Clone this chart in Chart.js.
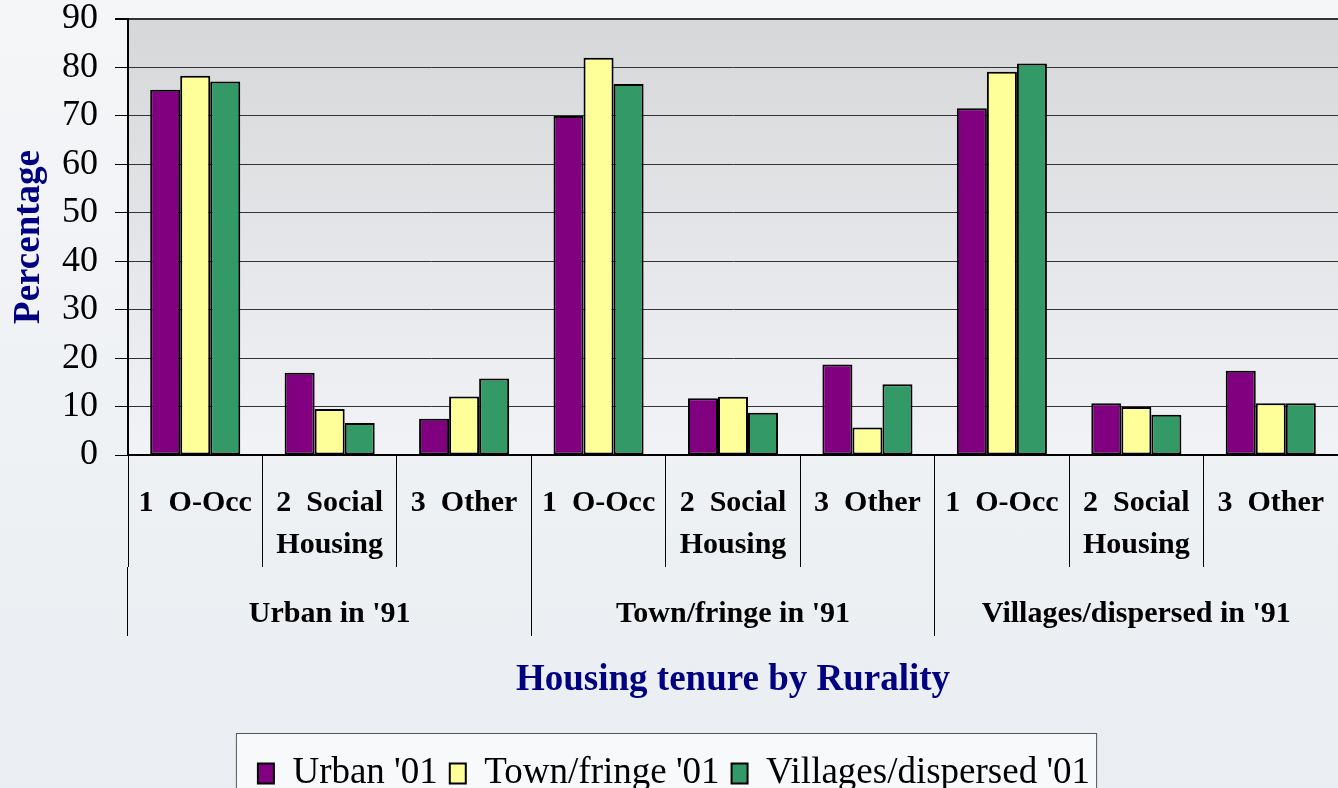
<!DOCTYPE html>
<html>
<head>
<meta charset="utf-8">
<script src="https://cdn.jsdelivr.net/npm/chart.js@4.4.0/dist/chart.umd.min.js"></script>
<style>
html, body { margin: 0; padding: 0; }
body { width: 1338px; height: 788px; overflow: hidden; background: linear-gradient(#f4f6f8, #eaedf1); }
</style>
</head>
<body>
<canvas id="chart" width="1338" height="788"></canvas>
<script>
// data
var tenureLabels = [
    ['1  O-Occ'], ['2  Social', 'Housing'], ['3  Other'],
    ['1  O-Occ'], ['2  Social', 'Housing'], ['3  Other'],
    ['1  O-Occ'], ['2  Social', 'Housing'], ['3  Other']
];
var ruralityGroups = ["Urban in '91", "Town/fringe in '91", "Villages/dispersed in '91"];
var seriesNames = ["Urban '01", "Town/fringe '01", "Villages/dispersed '01"];
var urban01 = [75.4, 17.0, 7.5, 70.0, 11.7, 18.7, 71.6, 10.7, 17.4];
var town01 = [78.3, 9.5, 12.1, 82.0, 12.0, 5.7, 79.1, 9.9, 10.7];
var villages01 = [77.1, 6.6, 15.8, 76.6, 8.7, 14.6, 80.8, 8.3, 10.7];
var yMin = 0, yMax = 90, yStep = 10;

var serif = "'Times New Roman', 'Liberation Serif', serif";

var plotBackground = {
    id: 'plotBackground',
    beforeDraw: function(chart) {
        var ctx = chart.ctx, a = chart.chartArea;
        ctx.save();
        var g = ctx.createLinearGradient(0, a.top, 0, a.bottom);
        g.addColorStop(0, '#d6d7d9');
        g.addColorStop(1, '#f1f3f6');
        ctx.fillStyle = g;
        ctx.fillRect(a.left, a.top, a.right - a.left, a.bottom - a.top);

        // frame round the legend
        var boxes = chart.legend.legendHitBoxes;
        if (boxes && boxes.length) {
            var first = boxes[0], last = boxes[boxes.length - 1];
            var x0 = first.left - 22, x1 = last.left + last.width + 6;
            var y0 = first.top - 22;
            ctx.fillStyle = '#f8f9fb';
            ctx.fillRect(x0, y0, x1 - x0, chart.height - y0 + 10);
            ctx.strokeStyle = '#555';
            ctx.lineWidth = 1;
            ctx.strokeRect(x0 + 0.5, y0 + 0.5, x1 - x0, chart.height - y0 + 10);
        }
        ctx.restore();
    }
};

var ctx = document.getElementById('chart').getContext('2d');

function makeSet(name, values, colour) {
    return {
        label: name,
        data: values,
        backgroundColor: colour,
        borderColor: '#000',
        borderWidth: 2,
        borderSkipped: false,
        categoryPercentage: 0.67,
        barPercentage: 1.0
    };
}

var myChart = new Chart(ctx, {
    type: 'bar',
    data: {
        labels: tenureLabels,
        datasets: [
            makeSet(seriesNames[0], urban01, '#800080'),
            makeSet(seriesNames[1], town01, '#ffff99'),
            makeSet(seriesNames[2], villages01, '#339966')
        ]
    },
    plugins: [plotBackground],
    options: {
        responsive: false,
        animation: false,
        layout: { padding: { left: 0, right: -10, top: 0, bottom: -14 } },
        plugins: {
            tooltip: { enabled: false },
            legend: {
                position: 'bottom',
                labels: {
                    color: '#000',
                    font: { family: serif, size: 37 },
                    boxWidth: 16,
                    boxHeight: 20,
                    padding: 12
                }
            }
        },
        scales: {
            x: {
                position: 'bottom',
                weight: 1,
                offset: true,
                grid: {
                    offset: true,
                    drawOnChartArea: false,
                    color: '#000',
                    lineWidth: 1,
                    tickLength: 112
                },
                border: { display: true, color: '#000', width: 2 },
                ticks: {
                    color: '#000',
                    maxRotation: 0,
                    autoSkip: false,
                    padding: -85,
                    font: { family: serif, size: 30, weight: 'bold', lineHeight: 1.4 }
                },
                afterFit: function(scale) { scale.height = 112; }
            },
            x2: {
                type: 'category',
                position: 'bottom',
                weight: 2,
                labels: ruralityGroups,
                offset: true,
                grid: {
                    offset: true,
                    drawOnChartArea: false,
                    color: '#000',
                    lineWidth: 1,
                    tickLength: 69
                },
                border: { display: false },
                ticks: {
                    color: '#000',
                    maxRotation: 0,
                    autoSkip: false,
                    padding: -40,
                    font: { family: serif, size: 30, weight: 'bold', lineHeight: 1.2 }
                },
                title: {
                    display: true,
                    text: 'Housing tenure by Rurality',
                    color: '#000080',
                    font: { family: serif, size: 37, weight: 'bold', lineHeight: 1.2 },
                    padding: { top: 0, bottom: 40 }
                },
                afterFit: function(scale) { scale.height = 176; }
            },
            y: {
                min: yMin,
                max: yMax,
                grid: {
                    color: '#333',
                    tickColor: '#000',
                    lineWidth: function(c) { return c.tick && c.tick.value === yMax ? 2 : 1; },
                    tickLength: 13
                },
                border: { display: true, color: '#000', width: 2 },
                ticks: {
                    stepSize: yStep,
                    color: '#000',
                    padding: 17,
                    font: { family: serif, size: 36 }
                },
                title: {
                    display: true,
                    text: 'Percentage',
                    color: '#000080',
                    font: { family: serif, size: 37, weight: 'bold', lineHeight: 1.2 },
                    padding: { top: 7, bottom: 0 }
                },
                afterFit: function(scale) {
                    scale.width = 128;
                    scale.paddingTop = 19;
                    scale.paddingBottom = 0;
                }
            }
        }
    }
});
</script>
</body>
</html>
